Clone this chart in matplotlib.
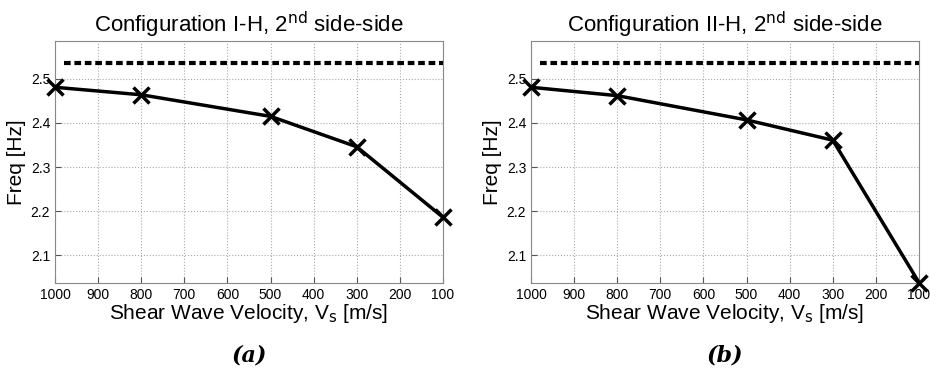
import numpy as np
import matplotlib.pyplot as plt

plt.rcParams['font.family'] = ['Liberation Sans', 'DejaVu Sans']

# Shear wave velocity [m/s]
vs = [1000, 800, 500, 300, 100]
# 2nd side-side frequency [Hz]
freq_a = [2.481, 2.464, 2.415, 2.346, 2.186]
freq_b = [2.481, 2.462, 2.407, 2.361, 2.038]
# fixed-base reference frequency
fixed_freq = 2.535

titles = ["Configuration I-H, 2$^{\\mathrm{nd}}$ side-side",
          "Configuration II-H, 2$^{\\mathrm{nd}}$ side-side"]
captions = ["(a)", "(b)"]
xticks = [1000, 900, 800, 700, 600, 500, 400, 300, 200, 100]
yticks = [2.1, 2.2, 2.3, 2.4, 2.5]

fig = plt.figure(figsize=(9.3, 3.8), dpi=100)
lefts = [55 / 930, 531 / 930]
for i, freq in enumerate([freq_a, freq_b]):
    ax = fig.add_axes([lefts[i], 1 - 283 / 380, 388 / 930, 242 / 380])
    ax.plot([980, 100], [fixed_freq, fixed_freq], color='black', lw=3,
            linestyle=(0, (1.6, 0.9)))
    ax.plot(vs, freq, color='black', lw=2.5, marker='x', ms=11, mew=2.5,
            clip_on=False, zorder=5)
    ax.set_xlim(1000, 100)
    ax.set_ylim(2.037, 2.586)
    ax.set_xticks(xticks)
    ax.set_yticks(yticks)
    ax.tick_params(direction='in', labelsize=10, length=4, color='#555555')
    ax.grid(True, linestyle=':', color='#aaaaaa', lw=0.8)
    for s in ax.spines.values():
        s.set_color('#888888')
    ax.set_title(titles[i], fontsize=16, pad=6)
    ax.set_xlabel("Shear Wave Velocity, V$_\\mathrm{s}$ [m/s]", fontsize=15, labelpad=0)
    ax.set_ylabel("Freq [Hz]", fontsize=15, labelpad=3)
    ax.text(0.5, -0.30, captions[i], transform=ax.transAxes, ha='center', va='center',
            fontsize=16, fontweight='bold', fontstyle='italic', family='DejaVu Serif')

fig.savefig('out.png', dpi=100)
